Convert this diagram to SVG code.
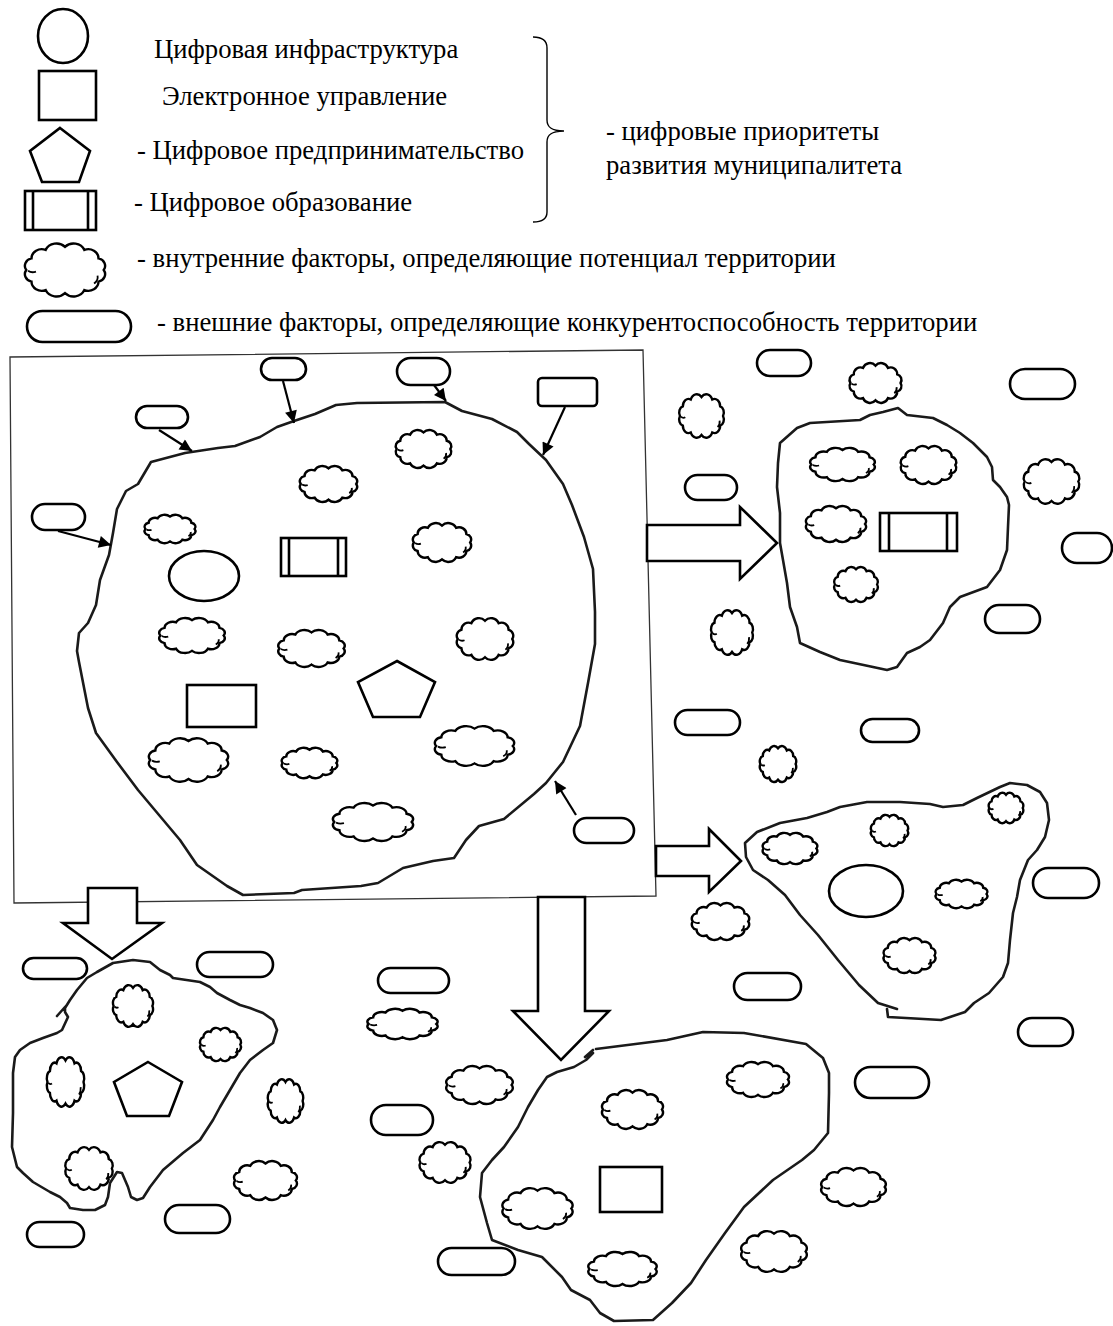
<svg xmlns="http://www.w3.org/2000/svg" xmlns:xlink="http://www.w3.org/1999/xlink" width="1113" height="1326" viewBox="0 0 1113 1326">
<style>
.txt{font-family:"Liberation Serif","Times New Roman",serif;font-size:26.7px;fill:#000}
.blob{fill:none;stroke:#1a1a1a;stroke-width:2.6;stroke-linejoin:round;stroke-linecap:round}
.shape{fill:#fff;stroke:#000;stroke-width:2.6}
.pill{fill:#fff;stroke:#000;stroke-width:2.6}
.cl{fill:#fff;stroke:#000;stroke-width:2.4;vector-effect:non-scaling-stroke}
.curl{fill:none;stroke:#000;stroke-width:1.8;vector-effect:non-scaling-stroke}
.frame{fill:none;stroke:#333;stroke-width:1.3}
.conn{stroke:#000;stroke-width:2.2;fill:none}
.barrow{fill:#fff;stroke:#000;stroke-width:2.6;stroke-linejoin:miter}
.brace{fill:none;stroke:#000;stroke-width:1.4}
</style>
<defs>
<symbol id="cloud" viewBox="0 0 100 70" preserveAspectRatio="none" overflow="visible">
<path class="cl" d="M6,35 A9.5,9.5 0 0 1 11.9,20.5 A11.6,11.6 0 0 1 28,9.9 A13.4,13.4 0 0 1 50,6 A13.4,13.4 0 0 1 72,9.9 A11.6,11.6 0 0 1 88.1,20.5 A9.5,9.5 0 0 1 94,35 A9.5,9.5 0 0 1 88.1,49.5 A11.6,11.6 0 0 1 72,60.1 A13.4,13.4 0 0 1 50,64 A13.4,13.4 0 0 1 28,60.1 A11.6,11.6 0 0 1 11.9,49.5 A9.5,9.5 0 0 1 6,35 Z"/>
<path class="curl" d="M83,52 Q88,48 87,42 M8,36 Q12,39 17,37"/>
</symbol>
<marker id="ah" viewBox="0 0 10 10" refX="10" refY="5" markerWidth="6.5" markerHeight="5.5" orient="auto" markerUnits="strokeWidth">
<path d="M0,0 L10,5 L0,10 Z" fill="#000"/>
</marker>
</defs>
<rect width="1113" height="1326" fill="#fff"/>

<!-- Legend -->
<g id="legend">
<g id="leg-infra"><ellipse class="shape" cx="63" cy="36" rx="25" ry="27"/><text class="txt" x="154" y="58">Цифровая инфраструктура</text></g>
<g id="leg-egov"><rect class="shape" x="39" y="71" width="57" height="49"/><text class="txt" x="162" y="105">Электронное управление</text></g>
<g id="leg-biz"><polygon class="shape" points="60,128 90,151 79,182 42,182 30,151"/><text class="txt" x="137" y="159">- Цифровое предпринимательство</text></g>
<g id="leg-edu"><rect class="shape" x="25" y="191" width="71" height="39"/><line class="shape" x1="33" y1="191" x2="33" y2="230"/><line class="shape" x1="88" y1="191" x2="88" y2="230"/><text class="txt" x="134" y="211">- Цифровое образование</text></g>
<g id="leg-int"><use href="#cloud" x="21" y="242" width="88" height="56"/><text class="txt" x="137" y="267">- внутренние факторы, определяющие потенциал территории</text></g>
<g id="leg-ext"><rect class="pill" x="27" y="311" width="104" height="31" rx="15.5"/><text class="txt" x="157" y="331">- внешние факторы, определяющие конкурентоспособность территории</text></g>
<g id="leg-brace"><path class="brace" d="M533,37 C542,37 547,40 547,48 L547,120 C547,127 551,131 564,131 C551,131 547,135 547,142 L547,212 C547,219 542,222 533,222"/><text class="txt" x="606" y="140">- цифровые приоритеты</text><text class="txt" x="606" y="174">развития муниципалитета</text></g>
</g>

<!-- Frame -->
<g id="frame"><polygon class="frame" points="10,357 643,350 656,896 14,903"/></g>

<!-- Main territory -->
<g id="territory-main">
<path class="blob" d="M151,462 L185,453 L218,448 L235,446 L260,437 L277,427 L294,421 L315,414 L336,405 L357,403 L445,402 L462,411 L492,419 L517,432 L529,444 L546,460 L563,484 L572,505 L584,537 L593,569 L595,612 L595,644 L588,683 L580,726 L563,762 L546,783 L534,794 L504,819 L479,826 L466,840 L454,858 L433,861 L403,868 L378,883 L361,886 L302,890 L294,893 L243,895 L227,886 L197,865 L180,840 L159,815 L138,790 L117,762 L96,733 L88,708 L79,662 L77,651 L79,633 L88,623 L96,605 L100,580 L109,555 L113,533 L117,509 L126,491 L138,484 Z"/>
</g>
<g id="main-infra"><ellipse class="shape" cx="204" cy="576" rx="35" ry="25"/></g>
<g id="main-edu"><rect class="shape" x="281" y="538" width="65" height="38"/><line class="shape" x1="289" y1="538" x2="289" y2="576"/><line class="shape" x1="338" y1="538" x2="338" y2="576"/></g>
<g id="main-egov"><rect class="shape" x="187" y="685" width="69" height="42"/></g>
<g id="main-biz"><polygon class="shape" points="397,661 435,682 420,717 373,717 358,682"/></g>
<g id="main-c1"><use href="#cloud" x="393" y="429" width="61" height="40"/></g>
<g id="main-c2"><use href="#cloud" x="297" y="465" width="63" height="38"/></g>
<g id="main-c3"><use href="#cloud" x="142" y="514" width="56" height="30"/></g>
<g id="main-c4"><use href="#cloud" x="410" y="522" width="64" height="41"/></g>
<g id="main-c5"><use href="#cloud" x="156" y="617" width="72" height="37"/></g>
<g id="main-c6"><use href="#cloud" x="275" y="629" width="73" height="39"/></g>
<g id="main-c7"><use href="#cloud" x="454" y="617" width="62" height="44"/></g>
<g id="main-c8"><use href="#cloud" x="145" y="737" width="87" height="46"/></g>
<g id="main-c9"><use href="#cloud" x="279" y="747" width="61" height="32"/></g>
<g id="main-c10"><use href="#cloud" x="431" y="725" width="87" height="42"/></g>
<g id="main-c11"><use href="#cloud" x="329" y="802" width="88" height="40"/></g>

<!-- External factors around main territory -->
<g id="ext-m1"><rect class="pill" x="261" y="358" width="45" height="22" rx="11"/></g>
<g id="ext-m2"><rect class="pill" x="397" y="358" width="53" height="27" rx="13.5"/></g>
<g id="ext-m3"><rect class="pill" x="538" y="378" width="59" height="28" rx="4"/></g>
<g id="ext-m4"><rect class="pill" x="136" y="406" width="52" height="22" rx="11"/></g>
<g id="ext-m5"><rect class="pill" x="32" y="504" width="53" height="26" rx="13"/></g>
<g id="ext-m6"><rect class="pill" x="574" y="818" width="60" height="25" rx="12.5"/></g>

<!-- Territory 2 (education) -->
<g id="territory-2">
<path class="blob" d="M780,443 L797,428 L810,423 L860,420 L870,415 L883,412 L898,408 L907,415 L933,418 L947,425 L960,433 L973,443 L987,457 L992,467 L993,480 L1000,487 L1007,497 L1009,505 L1008,527 L1007,550 L1000,570 L987,587 L960,597 L950,607 L943,623 L930,640 L920,647 L907,653 L897,667 L887,670 L873,667 L840,660 L820,652 L800,643 L797,627 L790,607 L787,583 L783,560 L780,543 L780,513 L777,487 L778,463 Z"/>
</g>
<g id="t2-edu"><rect class="shape" x="880" y="513" width="77" height="38"/><line class="shape" x1="889" y1="513" x2="889" y2="551"/><line class="shape" x1="947" y1="513" x2="947" y2="551"/></g>
<g id="t2-c1"><use href="#cloud" x="807" y="447" width="71" height="35"/></g>
<g id="t2-c2"><use href="#cloud" x="898" y="445" width="61" height="40"/></g>
<g id="t2-c3"><use href="#cloud" x="803" y="505" width="66" height="38"/></g>
<g id="t2-c4"><use href="#cloud" x="832" y="566" width="48" height="37"/></g>

<!-- Territory 3 (infrastructure) -->
<g id="territory-3">
<path class="blob" d="M897,1009 L878,1003 L859,985 L838,960 L818,935 L800,915 L785,895 L768,880 L753,870 L746,857 L745,843 L757,832 L780,823 L807,818 L827,812 L840,807 L867,802 L900,802 L930,804 L943,807 L963,805 L977,798 L1000,787 L1010,783 L1027,785 L1040,792 L1047,803 L1049,820 L1045,837 L1037,850 L1028,860 L1020,880 L1017,897 L1013,913 L1010,940 L1008,963 L1003,977 L989,993 L974,1003 L965,1012 L941,1020 L888,1017 L887,1009"/>
</g>
<g id="t3-infra"><ellipse class="shape" cx="866" cy="891" rx="37" ry="26"/></g>
<g id="t3-c1"><use href="#cloud" x="760" y="832" width="60" height="33"/></g>
<g id="t3-c2"><use href="#cloud" x="869" y="814" width="41" height="33"/></g>
<g id="t3-c3"><use href="#cloud" x="987" y="792" width="38" height="32"/></g>
<g id="t3-c4"><use href="#cloud" x="933" y="879" width="57" height="30"/></g>
<g id="t3-c5"><use href="#cloud" x="881" y="937" width="57" height="37"/></g>

<!-- Territory 4 (e-government) -->
<g id="territory-4">
<path class="blob" d="M585,1057 L593,1050 M596,1049 L667,1040 L703,1032 L744,1033 L806,1044 L823,1058 L829,1073 L829,1093 L828,1133 L814,1150 L802,1160 L773,1180 L744,1207 L725,1233 L706,1260 L691,1283 L672,1303 L653,1320 L614,1321 L600,1313 L590,1300 L571,1290 L562,1277 L542,1257 L518,1250 L492,1240 L487,1223 L480,1197 L482,1173 L492,1160 L504,1147 L518,1127 L528,1107 L538,1090 L547,1077 L557,1072 L574,1067 L586,1060 L593,1053"/>
</g>
<g id="t4-egov"><rect class="shape" x="600" y="1167" width="62" height="45"/></g>
<g id="t4-c1"><use href="#cloud" x="724" y="1061" width="68" height="37"/></g>
<g id="t4-c2"><use href="#cloud" x="599" y="1089" width="67" height="41"/></g>
<g id="t4-c3"><use href="#cloud" x="499" y="1187" width="77" height="43"/></g>
<g id="t4-c4"><use href="#cloud" x="585" y="1251" width="75" height="36"/></g>

<!-- Territory 5 (business) -->
<g id="territory-5">
<path class="blob" d="M57,1016 L65,1007 M65,1008 L65,1012 L68,1017 L62,1030 L57,1033 L43,1038 L30,1043 L20,1050 L15,1057 L13,1073 L13,1113 L12,1147 L17,1167 L23,1173 L33,1182 L50,1192 L60,1197 L67,1203 L70,1208 L83,1210 L95,1210 L105,1205 L108,1197 L110,1183 L117,1172 L122,1173 L128,1187 L131,1197 L137,1200 L143,1198 L150,1187 L163,1170 L183,1153 L200,1140 L213,1120 L220,1107 L230,1090 L240,1073 L250,1060 L263,1050 L273,1043 L277,1030 L273,1020 L263,1013 L250,1008 L240,1005 L230,1000 L217,993 L210,987 L200,982 L173,978 L170,975 L160,970 L150,962 L133,960 L113,963 L97,972 L87,978 L77,990 L70,1000 L65,1008"/>
</g>
<g id="t5-biz"><polygon class="shape" points="148,1062 182,1082 169,1116 127,1116 114,1082"/></g>
<g id="t5-c1"><use href="#cloud" x="111" y="984" width="44" height="44"/></g>
<g id="t5-c2"><use href="#cloud" x="198" y="1027" width="45" height="35"/></g>
<g id="t5-c3"><use href="#cloud" x="45" y="1056" width="41" height="52"/></g>
<g id="t5-c4"><use href="#cloud" x="63" y="1146" width="52" height="45"/></g>

<!-- Free-standing internal factors -->
<g id="f-c1"><use href="#cloud" x="847" y="362" width="57" height="42"/></g>
<g id="f-c2"><use href="#cloud" x="677" y="393" width="49" height="46"/></g>
<g id="f-c3"><use href="#cloud" x="1021" y="458" width="61" height="47"/></g>
<g id="f-c4"><use href="#cloud" x="709" y="609" width="46" height="47"/></g>
<g id="f-c5"><use href="#cloud" x="758" y="745" width="40" height="38"/></g>
<g id="f-c6"><use href="#cloud" x="689" y="902" width="63" height="39"/></g>
<g id="f-c7"><use href="#cloud" x="364" y="1008" width="77" height="32"/></g>
<g id="f-c8"><use href="#cloud" x="443" y="1065" width="73" height="40"/></g>
<g id="f-c9"><use href="#cloud" x="417" y="1141" width="56" height="43"/></g>
<g id="f-c10"><use href="#cloud" x="818" y="1167" width="71" height="40"/></g>
<g id="f-c11"><use href="#cloud" x="738" y="1230" width="72" height="43"/></g>
<g id="f-c12"><use href="#cloud" x="266" y="1078" width="39" height="46"/></g>
<g id="f-c13"><use href="#cloud" x="231" y="1160" width="69" height="41"/></g>

<!-- Free-standing external factors -->
<g id="f-p1"><rect class="pill" x="757" y="350" width="54" height="26" rx="13"/></g>
<g id="f-p2"><rect class="pill" x="1010" y="369" width="65" height="30" rx="15"/></g>
<g id="f-p3"><rect class="pill" x="685" y="475" width="52" height="25" rx="12.5"/></g>
<g id="f-p4"><rect class="pill" x="1062" y="533" width="50" height="30" rx="15"/></g>
<g id="f-p5"><rect class="pill" x="985" y="605" width="55" height="28" rx="14"/></g>
<g id="f-p6"><rect class="pill" x="675" y="710" width="65" height="25" rx="12.5"/></g>
<g id="f-p7"><rect class="pill" x="861" y="719" width="58" height="23" rx="11.5"/></g>
<g id="f-p8"><rect class="pill" x="1033" y="868" width="66" height="30" rx="15"/></g>
<g id="f-p9"><rect class="pill" x="734" y="973" width="67" height="27" rx="13.5"/></g>
<g id="f-p10"><rect class="pill" x="1018" y="1018" width="55" height="28" rx="14"/></g>
<g id="f-p11"><rect class="pill" x="855" y="1067" width="74" height="31" rx="15.5"/></g>
<g id="f-p12"><rect class="pill" x="378" y="968" width="71" height="25" rx="12.5"/></g>
<g id="f-p13"><rect class="pill" x="371" y="1105" width="62" height="30" rx="15"/></g>
<g id="f-p14"><rect class="pill" x="438" y="1248" width="77" height="27" rx="13.5"/></g>
<g id="f-p15"><rect class="pill" x="23" y="958" width="64" height="21" rx="10.5"/></g>
<g id="f-p16"><rect class="pill" x="197" y="952" width="76" height="25" rx="12.5"/></g>
<g id="f-p17"><rect class="pill" x="165" y="1205" width="65" height="28" rx="14"/></g>
<g id="f-p18"><rect class="pill" x="27" y="1222" width="57" height="25" rx="12.5"/></g>

<!-- Block arrows -->
<g id="arrow-right-1"><polygon class="barrow" points="647,525 740,525 740,507 777,543 740,579 740,561 647,561"/></g>
<g id="arrow-right-2"><polygon class="barrow" points="656,846 709,846 709,829 741,861 709,892 709,876 656,876"/></g>
<g id="arrow-down-1"><polygon class="barrow" points="538,897 585,897 585,1011 609,1011 561,1060 513,1011 538,1011"/></g>
<g id="arrow-down-2"><polygon class="barrow" points="88,888 137,888 137,923 162,923 112,959 63,923 88,923"/></g>

<!-- Connectors -->
<g id="connectors">
<line class="conn" x1="283" y1="381" x2="294" y2="423" marker-end="url(#ah)"/>
<line class="conn" x1="434" y1="385" x2="446" y2="401" marker-end="url(#ah)"/>
<line class="conn" x1="565" y1="407" x2="543" y2="455" marker-end="url(#ah)"/>
<line class="conn" x1="159" y1="430" x2="192" y2="451" marker-end="url(#ah)"/>
<line class="conn" x1="58" y1="531" x2="111" y2="545" marker-end="url(#ah)"/>
<line class="conn" x1="576" y1="815" x2="555" y2="781" marker-end="url(#ah)"/>
</g>
</svg>
